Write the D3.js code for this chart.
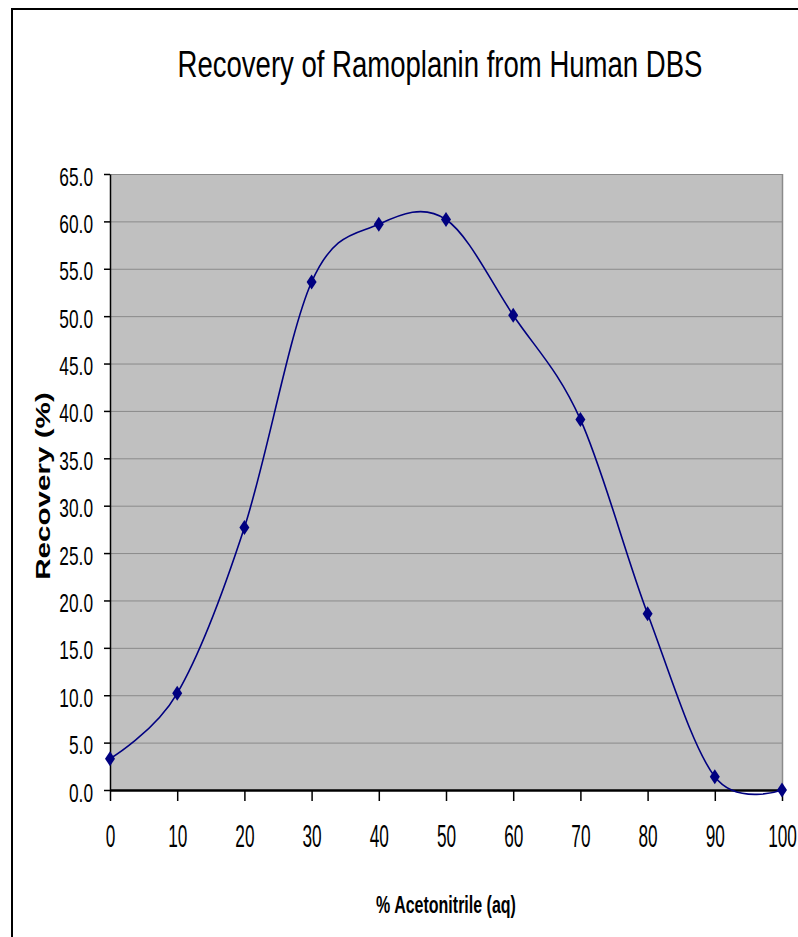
<!DOCTYPE html>
<html>
<head>
<meta charset="utf-8">
<script src="https://cdn.jsdelivr.net/npm/d3@7/dist/d3.min.js"></script>
<style>
  html, body { margin: 0; padding: 0; background: #ffffff; }
  svg { display: block; }
  text { font-family: "Liberation Sans", Arial, sans-serif; fill: #000; }
</style>
</head>
<body>
<script>
// Recovery of Ramoplanin vs. acetonitrile content
const acetonitrile = [0, 10, 20, 30, 40, 50, 60, 70, 80, 90, 100];
const recovery = [3.3, 10.2, 27.7, 53.6, 59.7, 60.2, 50.1, 39.1, 18.6, 1.4, 0.0];
const yTicks = [0, 5, 10, 15, 20, 25, 30, 35, 40, 45, 50, 55, 60, 65];
const xTicks = [0, 10, 20, 30, 40, 50, 60, 70, 80, 90, 100];

const W = 798, H = 937;
const plot = { left: 110, right: 782, top: 174, bottom: 790 };
const STRETCH = 1.45; // tall, narrow lettering

const svg = d3.select("body").append("svg")
  .attr("width", W).attr("height", H);

// outer chart frame
svg.append("line").attr("x1", 12).attr("x2", W + 2).attr("y1", 9).attr("y2", 9)
  .attr("stroke", "#000").attr("stroke-width", 2);
svg.append("line").attr("x1", 12).attr("x2", 12).attr("y1", 8).attr("y2", H + 2)
  .attr("stroke", "#000").attr("stroke-width", 2);

const x = d3.scaleLinear().domain([0, 100]).range([plot.left, plot.right]);
const y = d3.scaleLinear().domain([0, 65]).range([plot.bottom, plot.top]);

// plot area
svg.append("rect")
  .attr("x", plot.left).attr("y", plot.top)
  .attr("width", plot.right - plot.left).attr("height", plot.bottom - plot.top)
  .attr("fill", "#c0c0c0");

// horizontal gridlines
svg.append("g").selectAll("line")
  .data(yTicks.filter(d => d > 0))
  .join("line")
  .attr("x1", plot.left).attr("x2", plot.right)
  .attr("y1", d => y(d) + 0.5).attr("y2", d => y(d) + 0.5)
  .attr("stroke", "#8a8a8a").attr("stroke-width", 1);

// right border of plot area
svg.append("line")
  .attr("x1", plot.right + 0.5).attr("x2", plot.right + 0.5)
  .attr("y1", plot.top).attr("y2", plot.bottom)
  .attr("stroke", "#8a8a8a").attr("stroke-width", 1.5);

// y axis
const yAxis = svg.append("g")
  .attr("transform", `translate(${plot.left},0)`)
  .call(d3.axisLeft(y).tickValues(yTicks).tickSize(6).tickSizeOuter(0)
    .tickFormat(d3.format(".1f")));
yAxis.select(".domain").attr("stroke", "#000").attr("stroke-width", 1.5);
yAxis.selectAll(".tick line").attr("stroke", "#000").attr("stroke-width", 1.5);
yAxis.selectAll(".tick text")
  .attr("x", null).attr("dy", null).attr("y", null)
  .attr("text-anchor", "end")
  .attr("font-size", 17.3)
  .attr("transform", `translate(-17,11) scale(1,${STRETCH})`);

// x axis
const xAxis = svg.append("g")
  .attr("transform", `translate(0,${plot.bottom})`)
  .call(d3.axisBottom(x).tickValues(xTicks).tickSize(11).tickSizeOuter(0)
    .tickFormat(d3.format("d")));
xAxis.select(".domain").attr("stroke", "#000").attr("stroke-width", 2.5);
xAxis.selectAll(".tick line").attr("stroke", "#000").attr("stroke-width", 1.5);
xAxis.selectAll(".tick text")
  .attr("x", null).attr("dy", null).attr("y", null)
  .attr("text-anchor", "middle")
  .attr("font-size", 21)
  .attr("transform", `translate(0,57) scale(0.82,${STRETCH})`);
svg.selectAll(".tick text").attr("fill", "#000").attr("font-family", null);
svg.selectAll("g").filter(function () { return this.hasAttribute("font-family"); })
  .attr("font-family", null).attr("font-size", null);

// smoothed series line
const pts = acetonitrile.map((a, i) => [a, recovery[i]]);
const line = d3.line()
  .x(d => x(d[0])).y(d => y(d[1]))
  .curve(d3.curveCardinal.tension(0));
svg.append("path")
  .datum(pts)
  .attr("d", line)
  .attr("fill", "none")
  .attr("stroke", "#000080")
  .attr("stroke-width", 1.6);

// diamond markers
svg.append("g").selectAll("path")
  .data(pts)
  .join("path")
  .attr("transform", d => `translate(${x(d[0])},${y(d[1])})`)
  .attr("d", "M0,-7.5L5,0L0,7.5L-5,0Z")
  .attr("fill", "#000080");

// title
svg.append("text")
  .attr("text-anchor", "middle")
  .attr("font-size", 27)
  .attr("transform", `translate(440,77) scale(1.02,1.4)`)
  .text("Recovery of Ramoplanin from Human DBS");

// x axis title
svg.append("text")
  .attr("text-anchor", "middle")
  .attr("font-size", 16.5)
  .attr("font-weight", "bold")
  .attr("transform", `translate(446,913) scale(0.97,1.4)`)
  .text("% Acetonitrile (aq)");

// y axis title
svg.append("text")
  .attr("text-anchor", "middle")
  .attr("font-size", 21)
  .attr("font-weight", "bold")
  .attr("transform", `translate(50,486) scale(1,1.41) rotate(-90)`)
  .text("Recovery (%)");
</script>
</body>
</html>
